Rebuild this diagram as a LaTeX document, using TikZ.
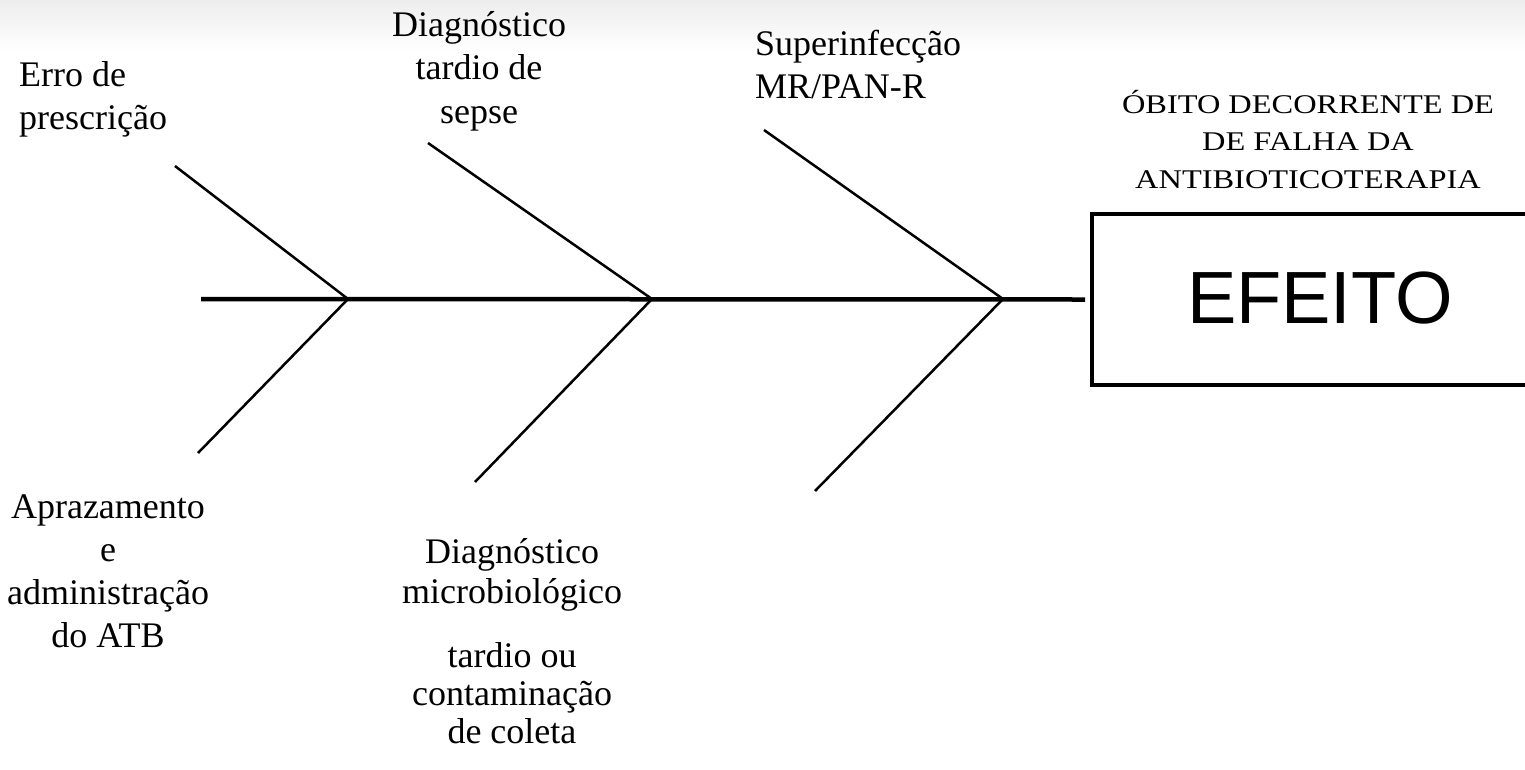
\documentclass[tikz,border=0pt]{standalone}
\usepackage{fontspec}
\setmainfont{Liberation Serif}
\newfontfamily\wideserif{Liberation Serif}[FakeStretch=1.2]
\newfontfamily\efeitofont{Liberation Sans}
\begin{document}
\begin{tikzpicture}[x=1pt,y=-1pt,
  lbl/.style={inner sep=0pt,anchor=base,align=center,font=\fontsize{36}{43}\selectfont},
  lbll/.style={lbl,align=left,anchor=base west},
  bone/.style={line width=2.5pt},
  spine/.style={line width=4.5pt}]
\useasboundingbox (0,0) rectangle (1525,769);
\clip (0,0) rectangle (1525,769);
\shade[top color=black!7,bottom color=white] (0,0) rectangle (1525,52);
% effect box
\node[draw,line width=4.5pt,minimum width=456pt,minimum height=171pt,inner sep=0pt] (efeito) at (1320,299.5) {};
\node[inner sep=0pt,font=\efeitofont\fontsize{74}{74}\selectfont] (eftxt) at (1320,298) {EFEITO};
\node[lbl,font=\wideserif\fontsize{27}{37.5}\selectfont] (obito) at (1308,188) {ÓBITO DECORRENTE DE\\DE FALHA DA\\ANTIBIOTICOTERAPIA};
% spine
\coordinate (s0) at (201,299);
\coordinate (j1) at (348,299);
\coordinate (j2) at (652,299);
\coordinate (j3) at (1003,299);
\draw[spine] (s0) -- (efeito.west -| 1085,299);
% bones
\coordinate (u1) at (175,166);
\coordinate (l1) at (198,453);
\coordinate (u2) at (428,143);
\coordinate (l2) at (475,482);
\coordinate (u3) at (764,130);
\coordinate (l3) at (815,491);
\draw[bone] (u1) -- (j1) -- (l1);
\draw[bone] (u2) -- (j2) -- (l2);
\draw[bone] (u3) -- (j3) -- (l3);
% labels (anchor = baseline of last line)
\node[lbll] (erro) at (19,129) {Erro de\\prescrição};
\node[lbl,font=\fontsize{36}{43.5}\selectfont] (sepse) at (479,123) {Diagnóstico\\tardio de\\sepse};
\node[lbll] (super) at (755,98) {Superinfecção\\MR/PAN-R};
\node[lbl] (apraz) at (108,647) {Aprazamento\\e\\administração\\do ATB};
\node[lbl,font=\fontsize{36}{40}\selectfont] (micro1) at (512,603) {Diagnóstico\\microbiológico};
\node[lbl,font=\fontsize{36}{38}\selectfont] (micro2) at (512,743) {tardio ou\\contaminação\\de coleta};
\end{tikzpicture}
\end{document}
